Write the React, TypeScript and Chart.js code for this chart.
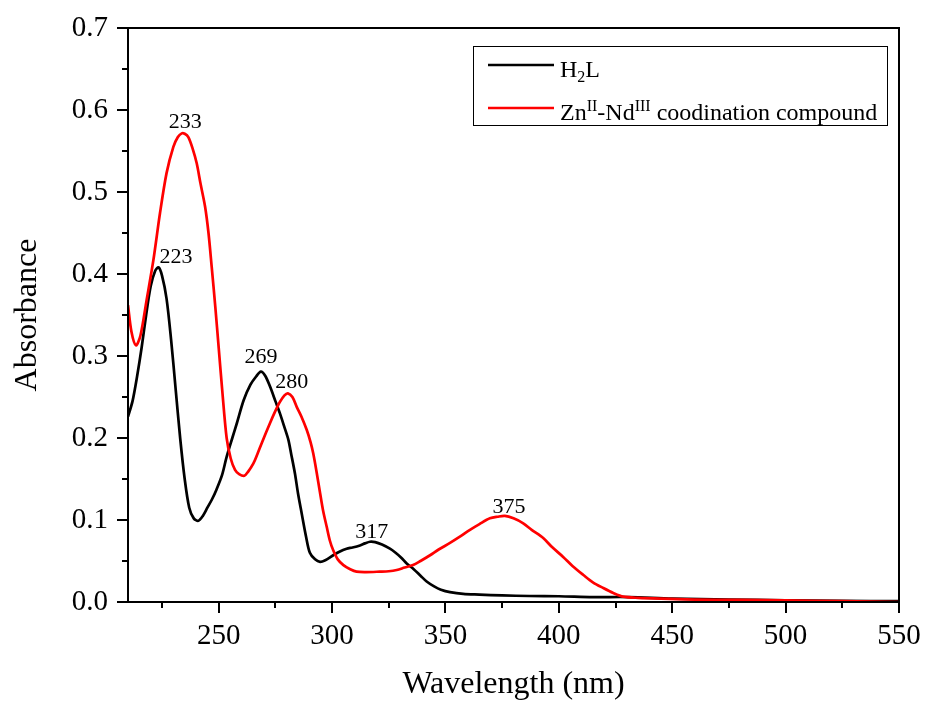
import React, { useEffect, useRef } from "react";
import { Chart, registerables } from "chart.js";

Chart.register(...registerables);

const h2lWavelength = [
  210, 212, 214, 216, 218, 220, 222, 223.5, 225, 227, 229, 231, 233, 235, 237, 239, 241, 243, 245, 247,
  249, 251.5, 253.5, 256, 258, 261, 264, 266.5, 268.6, 270.5, 272.6, 275, 277, 279, 280.7, 282, 283.6,
  285, 286.6, 288.5, 290.2, 292.5, 294.7, 297, 300.5, 303, 306.4, 309, 312.3, 314.5, 316.7, 319, 322,
  325.5, 328, 330.5, 332.9, 336, 339, 341.7, 345, 348, 352, 357.8, 365, 375, 387, 400, 415, 431, 450,
  475, 500, 525, 550,
];
const h2lAbsorbance = [
  0.226, 0.245, 0.275, 0.31, 0.35, 0.385, 0.404, 0.408, 0.398, 0.37, 0.32, 0.26, 0.2, 0.15, 0.115, 0.102,
  0.099, 0.105, 0.115, 0.125, 0.137, 0.155, 0.177, 0.2, 0.218, 0.246, 0.265, 0.275, 0.281, 0.276, 0.263,
  0.245, 0.23, 0.213, 0.198, 0.18, 0.157, 0.132, 0.108, 0.08, 0.06, 0.052, 0.049, 0.051, 0.057, 0.061,
  0.065, 0.0665, 0.069, 0.0715, 0.0735, 0.073, 0.07, 0.065, 0.06, 0.054, 0.047, 0.04, 0.032, 0.025, 0.019,
  0.015, 0.012, 0.0098, 0.009, 0.008, 0.0073, 0.007, 0.006, 0.006, 0.004, 0.003, 0.002, 0.0015, 0.001,
];

const znNdWavelength = [
  210, 211.5, 213.5, 215.5, 218.2, 221.2, 224.1, 227, 230, 232, 233.7, 235, 236.6, 238.5, 240.3, 242, 244,
  245.5, 246.9, 248.5, 250, 251.5, 253.5, 255.3, 257.2, 259, 261.3, 263, 265.3, 267, 269, 272.6, 275, 277,
  279, 280.5, 282.5, 284.4, 286.5, 288.8, 290.5, 291.7, 293.2, 294.7, 296, 297.6, 299, 300.5, 302.5, 305,
  308, 310.8, 315, 321, 325, 328.5, 332, 335.7, 339, 343.2, 347, 352, 356, 360.8, 365, 369.6, 373, 376.2,
  380, 384.3, 388, 393.1, 397, 401.9, 406, 410.8, 415, 419.6, 424, 428.4, 435, 445, 460, 480, 500, 525, 550,
];
const znNdAbsorbance = [
  0.362, 0.33, 0.313, 0.325, 0.368, 0.417, 0.474, 0.523, 0.555, 0.567, 0.5715, 0.571, 0.567, 0.553, 0.535,
  0.51, 0.482, 0.45, 0.409, 0.36, 0.31, 0.26, 0.2, 0.175, 0.161, 0.156, 0.154, 0.159, 0.169, 0.18, 0.194,
  0.218, 0.233, 0.244, 0.252, 0.2545, 0.25, 0.238, 0.226, 0.21, 0.195, 0.181, 0.158, 0.133, 0.112, 0.092,
  0.075, 0.063, 0.052, 0.045, 0.04, 0.037, 0.0365, 0.037, 0.0375, 0.039, 0.042, 0.045, 0.05, 0.057, 0.064,
  0.072, 0.079, 0.088, 0.095, 0.102, 0.104, 0.105, 0.102, 0.096, 0.088, 0.078, 0.067, 0.055, 0.044, 0.033,
  0.024, 0.017, 0.011, 0.0065, 0.005, 0.004, 0.003, 0.0025, 0.002, 0.001, 0.0,
];

const peakLabels = ["233", "223", "269", "280", "317", "375"];
const peakLabelX = [235.3, 231.2, 268.6, 282.2, 317.5, 378];
const peakLabelY = [0.578, 0.413, 0.292, 0.261, 0.0784, 0.109];

const xTickValues = [250, 300, 350, 400, 450, 500, 550];
const xMinorValues = [225, 250, 275, 300, 325, 350, 375, 400, 425, 450, 475, 500, 525, 550];
const yMinorValues = [0, 0.05, 0.1, 0.15, 0.2, 0.25, 0.3, 0.35, 0.4, 0.45, 0.5, 0.55, 0.6, 0.65, 0.7];

const SERIF = "'Liberation Serif', 'Times New Roman', serif";

function toPoints(xs: number[], ys: number[]) {
  return xs.map((x, i) => ({ x, y: ys[i] }));
}

const decorPlugin = {
  id: "decor",
  afterDatasetsDraw(chart: any) {
    const ctx = chart.ctx as CanvasRenderingContext2D;
    const xs = chart.scales.x;
    const ys = chart.scales.y;
    ctx.save();
    ctx.fillStyle = "#000";
    ctx.font = `22px ${SERIF}`;
    ctx.textAlign = "center";
    ctx.textBaseline = "alphabetic";
    peakLabels.forEach((t, i) => {
      ctx.fillText(t, xs.getPixelForValue(peakLabelX[i]), ys.getPixelForValue(peakLabelY[i]));
    });
    ctx.restore();
  },
  afterDraw(chart: any) {
    const ctx = chart.ctx as CanvasRenderingContext2D;
    const { left, right, top, bottom } = chart.chartArea;
    const xs = chart.scales.x;
    const ys = chart.scales.y;
    ctx.save();
    ctx.strokeStyle = "#000";
    ctx.lineWidth = 2;
    ctx.strokeRect(left, top, right - left, bottom - top);
    xMinorValues.forEach((v) => {
      const px = Math.round(xs.getPixelForValue(v));
      const major = v % 50 === 0;
      ctx.beginPath();
      ctx.moveTo(px, bottom);
      ctx.lineTo(px, bottom + (major ? 11 : 6));
      ctx.stroke();
    });
    yMinorValues.forEach((v, i) => {
      const py = Math.round(ys.getPixelForValue(v));
      const major = i % 2 === 0;
      ctx.beginPath();
      ctx.moveTo(left, py);
      ctx.lineTo(left - (major ? 11 : 6), py);
      ctx.stroke();
    });
    ctx.fillStyle = "#000";
    ctx.font = `32px ${SERIF}`;
    ctx.textAlign = "center";
    ctx.textBaseline = "alphabetic";
    ctx.fillText("Wavelength (nm)", (left + right) / 2, 693);
    ctx.save();
    ctx.translate(36, (top + bottom) / 2);
    ctx.rotate(-Math.PI / 2);
    ctx.fillText("Absorbance", 0, 0);
    ctx.restore();

    const bx = 473, by = 46, bw = 414, bh = 79;
    ctx.lineWidth = 1;
    ctx.strokeStyle = "#000";
    ctx.strokeRect(bx + 0.5, by + 0.5, bw, bh);
    const rows = [
      { color: "#000000", y: 65, parts: [["H", 0], ["2", -1], ["L", 0]] },
      { color: "#ff0000", y: 108, parts: [["Zn", 0], ["II", 1], ["-Nd", 0], ["III", 1], [" coodination compound", 0]] },
    ];
    rows.forEach((r) => {
      ctx.strokeStyle = r.color;
      ctx.lineWidth = 2.5;
      ctx.beginPath();
      ctx.moveTo(488, r.y);
      ctx.lineTo(554, r.y);
      ctx.stroke();
      let x = 560;
      const base = r.y + 12;
      ctx.fillStyle = "#000";
      ctx.textAlign = "left";
      (r.parts as [string, number][]).forEach(([t, mode]) => {
        if (mode === 0) {
          ctx.font = `24px ${SERIF}`;
          ctx.fillText(t, x, base);
        } else if (mode === 1) {
          ctx.font = `16px ${SERIF}`;
          ctx.fillText(t, x, base - 9);
        } else {
          ctx.font = `16px ${SERIF}`;
          ctx.fillText(t, x, base + 5);
        }
        x += ctx.measureText(t).width;
      });
    });
    ctx.restore();
  },
};

export default function App() {
  const ref = useRef<HTMLCanvasElement | null>(null);
  useEffect(() => {
    document.body.style.margin = "0";
    if (!ref.current) return;
    const chart = new Chart(ref.current, {
      type: "line",
      data: {
        datasets: [
          {
            label: "H2L",
            data: toPoints(h2lWavelength, h2lAbsorbance),
            borderColor: "#000000",
            borderWidth: 2.7,
            pointRadius: 0,
            tension: 0.3,
            order: 1,
          },
          {
            label: "ZnII-NdIII coodination compound",
            data: toPoints(znNdWavelength, znNdAbsorbance),
            borderColor: "#ff0000",
            borderWidth: 2.7,
            pointRadius: 0,
            tension: 0.3,
            order: 0,
          },
        ],
      },
      options: {
        responsive: false,
        animation: false,
        layout: { padding: { top: 28, right: 28, left: 0, bottom: 0 } },
        plugins: { legend: { display: false }, tooltip: { enabled: false } },
        scales: {
          x: {
            type: "linear",
            min: 210,
            max: 550,
            grid: { display: true, drawOnChartArea: false, drawTicks: false },
            border: { display: false },
            afterBuildTicks: (s: any) => {
              s.ticks = xTickValues.map((v) => ({ value: v }));
            },
            afterFit: (s: any) => {
              s.height = 102;
              s.paddingLeft = 0;
              s.paddingRight = 0;
              s.paddingTop = 0;
              s.paddingBottom = 0;
            },
            ticks: {
              color: "#000",
              padding: 17,
              maxRotation: 0,
              autoSkip: false,
              font: { family: SERIF, size: 29 },
            },
          },
          y: {
            type: "linear",
            min: 0,
            max: 0.7,
            grid: { display: true, drawOnChartArea: false, drawTicks: false },
            border: { display: false },
            afterFit: (s: any) => {
              s.width = 128;
              s.paddingLeft = 0;
              s.paddingRight = 0;
              s.paddingTop = 0;
              s.paddingBottom = 0;
            },
            ticks: {
              color: "#000",
              stepSize: 0.1,
              padding: 20,
              font: { family: SERIF, size: 29 },
              callback: (v: any) => Number(v).toFixed(1),
            },
          },
        },
      },
      plugins: [decorPlugin],
    });
    return () => chart.destroy();
  }, []);
  return <canvas ref={ref} width={927} height={704} style={{ display: "block" }} />;
}
